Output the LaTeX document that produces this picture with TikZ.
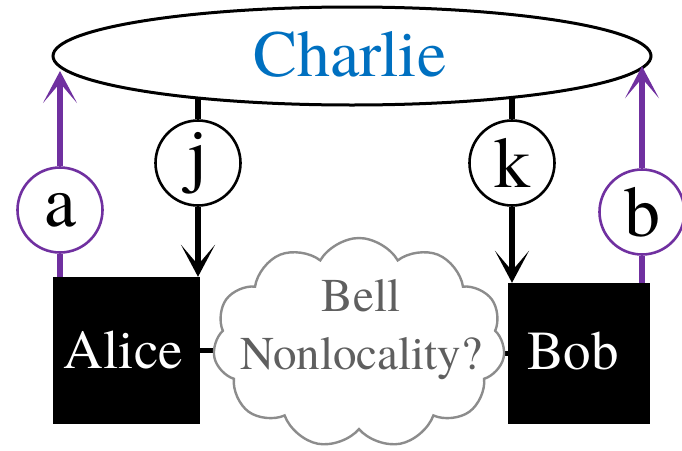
\documentclass[tikz,border=0pt]{standalone}
\usepackage{fontspec}
\setmainfont{texgyretermes}[Extension=.otf,UprightFont=*-regular,BoldFont=*-bold]
\usetikzlibrary{shapes.geometric,shapes.symbols,arrows.meta}
\definecolor{cpurple}{HTML}{7030A0}
\definecolor{cblue}{HTML}{0070C0}
\definecolor{cgray}{HTML}{8C8C8C}
\definecolor{tgray}{HTML}{5F5F5F}
\pgfdeclarelayer{bg}
\pgfsetlayers{bg,main}
\begin{document}
\begin{tikzpicture}[x=1pt,y=-1pt,
  lbl/.style={circle,draw,line width=2.6pt,fill=white,minimum size=85pt,inner sep=0pt,font=\fontsize{72}{72}\selectfont},
  party/.style={fill=black,text=white,inner sep=0pt,font=\fontsize{55}{60}\selectfont},
  blk/.style={line width=5.5pt,black},
  pur/.style={line width=5.5pt,cpurple},
  tip/.style={-{Stealth[length=32pt,width=34pt,inset=20pt]}}
]
\useasboundingbox (0,0) rectangle (682,450);
\node[ellipse,draw,line width=3pt,fill=white,minimum width=598pt,minimum height=98pt,inner sep=0pt] (charlie) at (352,56) {};
\node[text=cblue,font=\fontsize{66}{70}\selectfont,inner sep=0pt] (charlietxt) at (350,54) {Charlie};
\node[party,minimum width=147pt,minimum height=147pt] (alice) at (126.5,350.5) {};
\node[text=white,font=\fontsize{55}{60}\selectfont,inner sep=0pt] (alicetxt) at (123.5,350) {Alice};
\node[party,minimum width=142pt,minimum height=141pt] (bob) at (579,353.5) {};
\node[text=white,font=\fontsize{55}{60}\selectfont,inner sep=0pt] (bobtxt) at (573,351) {Bob};
\node[cloud,draw=cgray,line width=2.4pt,fill=white,cloud puffs=11,cloud puff arc=120,aspect=1.4,minimum width=292pt,minimum height=210pt,inner sep=0pt] (cloud) at (359,343) {};
\node[text=tgray,align=center,font=\fontsize{47}{58}\selectfont,inner sep=0pt] (cloudtxt) at (361,330) {Bell\\Nonlocality?};
\node[lbl] (cj) at (198,163) {j};
\node[lbl] (ck) at (512,163) {k};
\node[lbl,draw=cpurple] (ca) at (60,210) {a};
\node[lbl,draw=cpurple] (cb) at (642,212) {b};
\begin{pgfonlayer}{bg}
\draw[blk] (cj.north) -- (cj.north |- charlie.center);
\draw[blk] (ck.north) -- (ck.north |- charlie.center);
\draw[blk] (alice.east) -- (cloud.center |- alice.east);
\draw[blk] (bob.west) -- (cloud.center |- bob.west);
\end{pgfonlayer}
\draw[blk,tip] (cj.south) -- (cj.south |- alice.north);
\draw[blk,tip] (ck.south) -- (ck.south |- bob.north);
\draw[pur] (ca.south |- alice.north) -- (ca.south);
\draw[pur,tip] (ca.north) -- (ca.north |- charlie.-177.65);
\draw[pur] (cb.south |- bob.north) -- (cb.south);
\draw[pur,tip] (cb.north) -- (cb.north |- charlie.-2.35);
\end{tikzpicture}
\end{document}
